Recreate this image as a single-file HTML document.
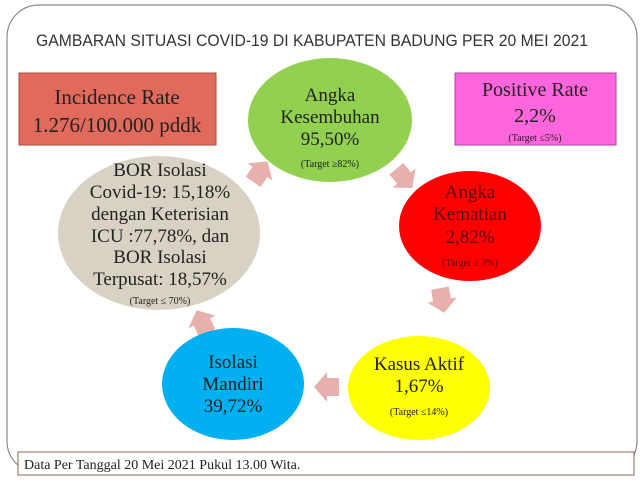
<!DOCTYPE html>
<html><head><meta charset="utf-8"><style>
html,body{margin:0;padding:0;background:#fff;}
body{width:640px;height:480px;overflow:hidden;}
svg text{font-family:"Liberation Serif",serif;}
</style></head><body>
<svg width="640" height="480" viewBox="0 0 640 480" xmlns="http://www.w3.org/2000/svg">
<rect x="7" y="5" width="630" height="468" rx="32" fill="#fff" stroke="#8a8a8a" stroke-width="1.2"/>
<text x="312" y="46" text-anchor="middle" style="font-family:'Liberation Sans',sans-serif" font-size="17" fill="#333" textLength="552" lengthAdjust="spacingAndGlyphs">GAMBARAN SITUASI COVID-19 DI KABUPATEN BADUNG PER 20 MEI 2021</text>

<rect x="19" y="73" width="197" height="72" fill="#e06a5c" stroke="#b04a40" stroke-width="1"/>
<text x="117" y="104" text-anchor="middle" font-size="21" fill="#222">Incidence Rate</text>
<text x="117" y="132" text-anchor="middle" font-size="21" fill="#222">1.276/100.000 pddk</text>

<rect x="455" y="73" width="161" height="72" fill="#ff66dd" stroke="#b040a0" stroke-width="1"/>
<text x="535" y="96" text-anchor="middle" font-size="20" fill="#222">Positive Rate</text>
<text x="535" y="122" text-anchor="middle" font-size="20" fill="#222">2,2%</text>
<text x="535" y="141" text-anchor="middle" font-size="10" fill="#222">(Target ≤5%)</text>

<g fill="#e8b0ad">
<polygon points="-12,-9 0,-9 0,-15 13,0 0,15 0,9 -12,9" transform="translate(260,172) rotate(-55)"/>
<polygon points="-12,-9 0,-9 0,-15 13,0 0,15 0,9 -12,9" transform="translate(404,178) rotate(50)"/>
<polygon points="-12,-9 0,-9 0,-15 13,0 0,15 0,9 -12,9" transform="translate(442,300) rotate(80)"/>
<polygon points="-12,-9 0,-9 0,-15 13,0 0,15 0,9 -12,9" transform="translate(327,387) rotate(180)"/>
<polygon points="-12,-9 0,-9 0,-15 13,0 0,15 0,9 -12,9" transform="translate(202,322) rotate(-115)"/>
</g>

<ellipse cx="330" cy="120" rx="82" ry="62" fill="#92d050"/>
<text x="330" y="101" text-anchor="middle" font-size="19" fill="#222">Angka</text>
<text x="330" y="123" text-anchor="middle" font-size="19" fill="#222">Kesembuhan</text>
<text x="330" y="145" text-anchor="middle" font-size="19" fill="#222">95,50%</text>
<text x="330" y="167" text-anchor="middle" font-size="10" fill="#222">(Target ≥82%)</text>

<ellipse cx="470" cy="226" rx="71" ry="55" fill="#ff0000"/>
<text x="470" y="198" text-anchor="middle" font-size="19" fill="#5a0000">Angka</text>
<text x="470" y="220" text-anchor="middle" font-size="19" fill="#5a0000">Kematian</text>
<text x="470" y="243" text-anchor="middle" font-size="19" fill="#5a0000">2,82%</text>
<text x="470" y="266" text-anchor="middle" font-size="10" fill="#5a0000">(Target ≤ 3%)</text>

<ellipse cx="159" cy="233" rx="101" ry="77" fill="#d8d2c4"/>
<g font-size="19" fill="#222" text-anchor="middle">
<text x="160" y="176">BOR Isolasi</text>
<text x="160" y="198">Covid-19: 15,18%</text>
<text x="160" y="220">dengan Keterisian</text>
<text x="160" y="242">ICU :77,78%, dan</text>
<text x="160" y="263">BOR Isolasi</text>
<text x="160" y="285">Terpusat: 18,57%</text>
</g>
<text x="160" y="304" text-anchor="middle" font-size="10" fill="#222">(Target ≤ 70%)</text>

<ellipse cx="233" cy="384" rx="71" ry="56" fill="#00b0f0"/>
<text x="233" y="368" text-anchor="middle" font-size="19" fill="#222">Isolasi</text>
<text x="233" y="390" text-anchor="middle" font-size="19" fill="#222">Mandiri</text>
<text x="233" y="412" text-anchor="middle" font-size="19" fill="#222">39,72%</text>

<ellipse cx="419" cy="388" rx="71" ry="52" fill="#ffff00"/>
<text x="419" y="370" text-anchor="middle" font-size="19" fill="#222">Kasus Aktif</text>
<text x="419" y="392" text-anchor="middle" font-size="19" fill="#222">1,67%</text>
<text x="419" y="415" text-anchor="middle" font-size="10" fill="#222">(Target ≤14%)</text>

<rect x="18" y="452" width="616" height="23" fill="#fff" stroke="#8a6a60" stroke-width="1"/>
<text x="24" y="469" font-size="14" fill="#222">Data Per Tanggal 20 Mei 2021 Pukul 13.00 Wita.</text>
</svg>
</body></html>
